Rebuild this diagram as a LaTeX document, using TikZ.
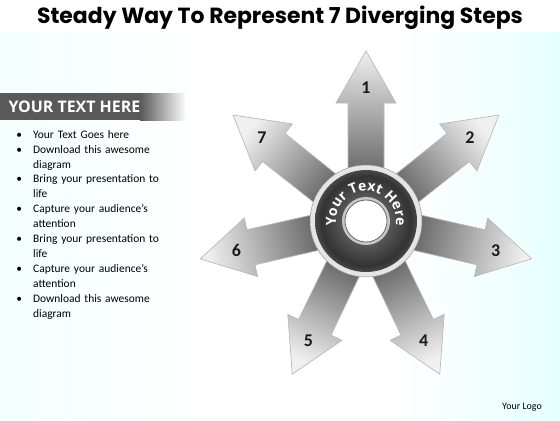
\documentclass[tikz,border=0pt]{standalone}
\usepackage{fontspec}
\setmainfont{Carlito}
\newfontfamily\titlefont{Poppins}
\newfontfamily\headfont{Open Sans}
\usepackage{enumitem}
\usetikzlibrary{calc,decorations.text}
\pgfdeclareradialshading{ringshade}{\pgfpoint{0bp}{0bp}}{color(0bp)=(black!50); color(22bp)=(black!80); color(30bp)=(black!58); color(44bp)=(black!68); color(50bp)=(black!92); color(100bp)=(black!92)}
\tikzset{
	arrowbody/.style={draw=gray!55, line width=0.7pt, top color=black!6, bottom color=black!62, preaction={draw=white, line width=3pt}},
	steplabel/.style={font=\bfseries\fontsize{18}{18}\selectfont, text=black!90},
}
\def\steparrow(#1)(#2){\begin{scope}[shift={(#1)}, rotate=#2]
		\draw[arrowbody, shading angle=#2-90] (40,-18) -- (118,-18) -- (118,-30) -- (170,0) -- (118,30) -- (118,18) -- (40,18) -- cycle;
	\end{scope}}

\begin{document}
\begin{tikzpicture}[x=1bp, y=1bp]
		%%%%% START %%%%%
		
		\useasboundingbox (0,0) rectangle (560,420);
		\fill[white] (0,0) rectangle (560,420);
		\shade[left color=cyan!4, right color=white] (0,0) rectangle (200,388);
		\shade[left color=white, right color=cyan!10] (400,0) rectangle (560,388);
		
		\node[font=\titlefont\bfseries\fontsize{22}{22}\selectfont] (title) at (280,402) {Steady Way To Represent 7 Diverging Steps};
		
		\fill[black!65] (0,300) rectangle (140,327);
		\shade[left color=black!65, right color=white] (140,300) rectangle (186,327);
		\node[anchor=west, text=white, font=\headfont\bfseries\fontsize{16}{16}\selectfont] (head) at (5,313.5) {YOUR TEXT HERE};
		
		\node[anchor=north west, text width=180bp, font=\fontsize{11.5}{15}\selectfont, inner sep=0pt] (notes) at (12,297) {%
			\begin{itemize}[leftmargin=21bp, labelsep=11bp, itemsep=0pt, topsep=0pt, parsep=0pt, partopsep=0pt]
				\item Your Text Goes here
				\item Download this awesome\newline diagram
				\item Bring your presentation to\newline life
				\item Capture your audience’s\newline attention
				\item Bring your presentation to\newline life
				\item Capture your audience’s\newline attention
				\item Download this awesome\newline diagram
			\end{itemize}};
		
		\node[font=\fontsize{10}{10}\selectfont] (logo) at (522,13) {Your Logo};
		
		\coordinate (hub) at (366,199);
		
		\steparrow(hub)(90)
		\steparrow(hub)(38.57)
		\steparrow(hub)(-12.86)
		\steparrow(hub)(-64.29)
		\steparrow(hub)(-115.71)
		\steparrow(hub)(-167.14)
		\steparrow(hub)(141.43)
		
		\node[steplabel] (n1) at ($(hub)+(90:133)$) {1};
		\node[steplabel] (n2) at ($(hub)+(38.57:133)$) {2};
		\node[steplabel] (n3) at ($(hub)+(-12.86:133)$) {3};
		\node[steplabel] (n4) at ($(hub)+(-64.29:133)$) {4};
		\node[steplabel] (n5) at ($(hub)+(-115.71:133)$) {5};
		\node[steplabel] (n6) at ($(hub)+(-167.14:133)$) {6};
		\node[steplabel] (n7) at ($(hub)+(141.43:133)$) {7};
		
		\draw[fill=black!10, draw=black!40, line width=0.5pt] (hub) circle (56);
		\shade[shading=ringshade] (hub) circle (51);
		\fill[black!22] (hub) circle (24);
		\draw[fill=white, draw=black!60, line width=0.8pt] (hub) circle (21);
		
		\path[decorate, decoration={text along path, text align=center, text color=white, text={|\headfont\bfseries\fontsize{14}{14}\selectfont|Your Text Here}}] ($(hub)+(185:30)$) arc (185:-5:30);
		
		%%%%% END %%%%%
	\end{tikzpicture}
\end{document}
